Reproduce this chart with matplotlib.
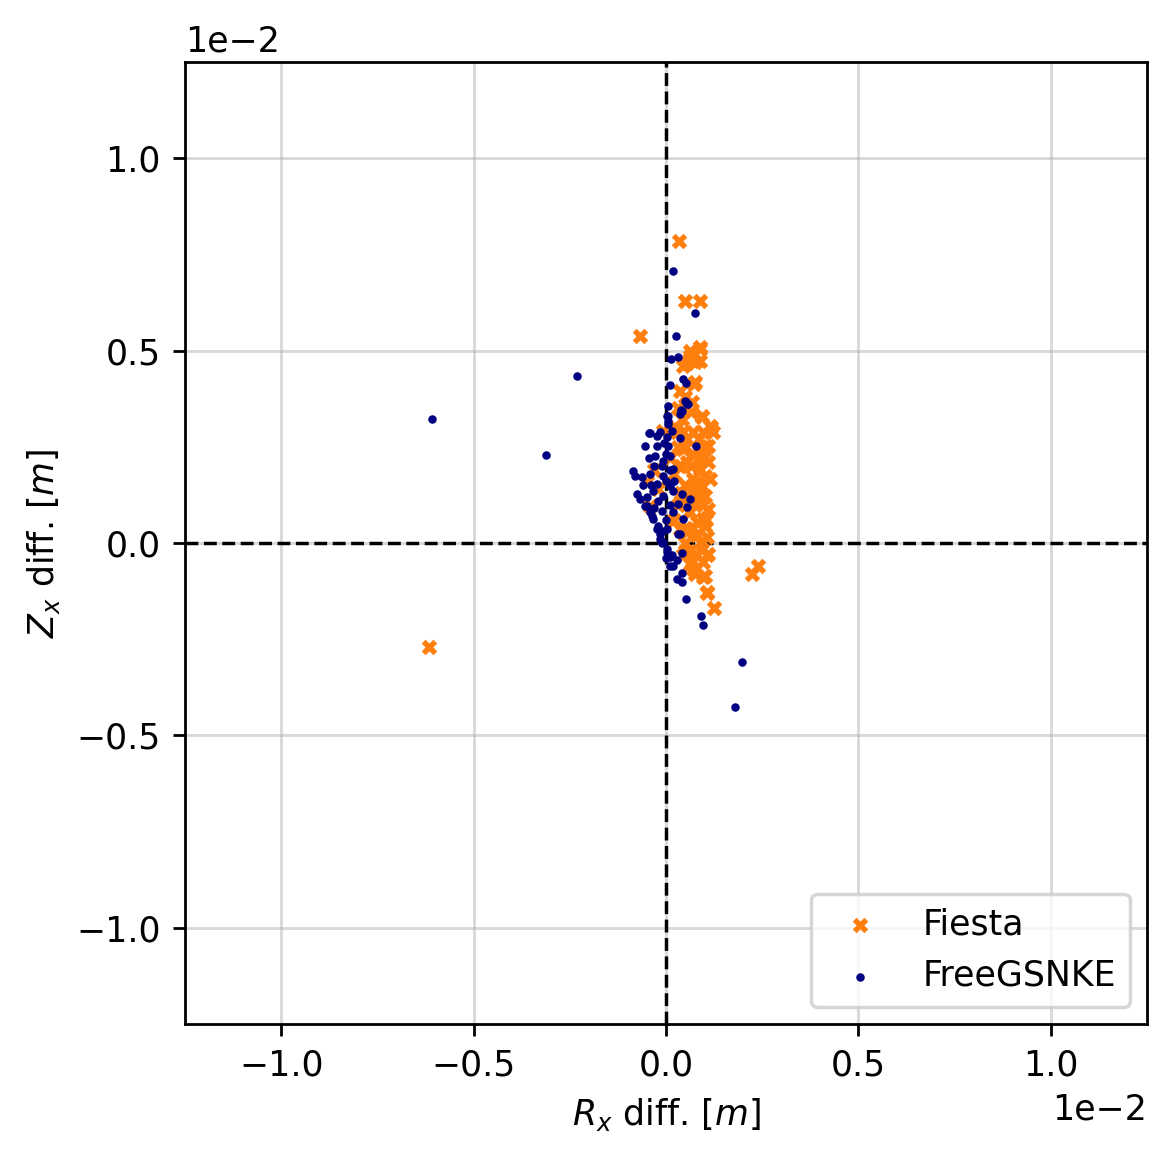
import matplotlib
matplotlib.use("Agg")
import matplotlib.pyplot as plt
import numpy as np

# X-point position differences, in mm (plotted in metres)
fiesta_r = [0.34, 0.49, 0.89, -0.68, -6.15, 2.24, 2.40, 1.25, 1.07, 0.96, 1.07, 1.17, 0.94,
            0.89, 0.89, 0.63, 0.55, 0.73, 1.02, 1.02, 0.96, 0.76, 0.63,
            0.63, 0.89, 0.76, 0.44, 0.76, 0.36, 0.68, 0.94, 1.15, 0.42, 0.44, -0.08, 0.70,
            1.07, 1.09, 1.02, 1.07, 0.94, 0.68, 0.70, 0.55,
            0.96, 1.22, 1.09, 1.09, 1.15, 1.02, 1.09, 1.02, 0.55, 0.81, 0.55, 0.70, 0.81,
            0.63, 0.44, 0.29, -0.49, -0.42, 0.89, 0.94, 0.36,
            0.30, 0.40, 0.50, 0.60, 0.30, 0.20, 0.70, 0.80, 0.50, 0.60, 0.90, 0.40, 0.20,
            0.75, 0.85, 1.00, 1.05, 0.65, 0.50, 0.30, 0.55, 0.10, -0.20, -0.30, 0.95, 0.45, 0.80,
            0.60, 0.75, 0.90, 0.65, 0.85, 0.45, 0.70, 0.95, 0.35, 0.25]
fiesta_z = [7.86, 6.30, 6.30, 5.39, -2.71, -0.81, -0.60, -1.69, -1.30, -0.89, -0.31, 3.02, 3.28,
            5.05, 4.74, 5.00, 4.69, 4.14, 2.53, 1.74, 0.63, -0.81, -0.55,
            4.87, 5.10, 4.71, 4.61, 4.19, 3.96, 3.67, 3.31, 3.05, 3.23, 2.89, 2.92, 2.89,
            0.16, -0.29, -0.86, -1.28, -0.16, -0.47, -0.68, 0.29,
            2.89, 2.89, 2.53, 2.11, 1.67, 1.22, 0.89, 0.44, 0.36, 0.55, 2.11, 1.67, 1.22,
            0.81, 2.45, 2.89, 1.59, 0.96, 1.93, 1.48, 0.36,
            2.50, 2.00, 1.50, 1.20, 1.00, 1.80, 2.30, 0.20, 0.00, -0.20, 0.00, 1.30, 0.60,
            1.00, 2.70, 2.20, 0.60, 3.40, 3.80, 3.50, 2.70, 2.20, 1.40, 1.90, -0.50, -0.30, -0.30,
            0.80, 1.40, 2.40, 2.00, 1.60, 1.10, 0.40, 1.00, 2.00, 3.00]

freegs_r = [-6.07, -2.32, -3.12, 0.18, 0.76, 1.98, 1.80, 0.91, 0.96, 0.52,
            0.26, 0.13, 0.31, 0.10, 0.44, 0.52, 0.05, 0.52, 0.57, 0.39, 0.36,
            0.49, 0.55, 0.05, 0.42, 0.03, 0.05, 0.05, -0.42, -0.16, -0.23, 0.36, 0.03,
            0.42, 0.29, 0.42, 0.29, 0.42, 0.18, 0.10, 0.03, -0.08, -0.16, 0.31,
            -0.44, -0.55, -0.23, 0.05, 0.78, 0.10, -0.08, -0.86, -0.81, -0.63, -0.42, -0.08,
            0.18, -0.23, 0.10, -0.34, -0.76, -0.08, 0.18, 0.42, 0.63, -0.68, 0.31, 0.55,
            -0.55, -0.42, -0.10, 0.18, 0.44, -0.34, -0.21, 0.03, 0.36,
            -0.29, -0.49, -0.36, -0.23, -0.16, 0.03, 0.10,
            -0.10, 0.00, -0.20, 0.10, -0.30, 0.00, -0.10, 0.20, 0.00, -0.40, -0.60, -0.50,
            0.10, -0.10, 0.00, 0.15, -0.05, 0.15, -0.30, -0.45]
freegs_z = [3.23, 4.35, 2.29, 7.06, 5.99, -3.10, -4.27, -1.90, -2.14, -1.46,
            5.39, 4.79, 4.84, 4.11, 4.27, 4.17, 3.57, 3.67, 3.62, 3.46, 3.36,
            3.70, 3.62, 3.31, 3.44, 3.31, 3.18, 3.10, 2.86, 2.89, 2.79, 2.73, 2.76,
            -1.02, -0.94, -0.78, -0.44, -0.26, -0.60, -0.36, -0.16, 0.03, 0.23, 0.23,
            2.86, 2.53, 2.53, 2.53, 2.53, 2.27, 2.14, 1.88, 1.74, 1.72, 1.80, 1.74,
            1.93, 1.54, 1.48, 1.35, 1.28, 1.22, 1.35, 1.28, 1.15, 1.15, 1.02, 0.94,
            0.96, 0.81, 0.83, 0.81, 0.63, 0.63, 0.44, 0.36, 0.23,
            2.27, 0.96, 0.70, 0.36, 0.10, -0.23, -0.60,
            2.00, 1.60, 1.10, 1.00, 0.90, 0.60, 0.30, 1.60, 2.30, 1.50, 1.50, 1.20,
            1.90, 0.00, -0.40, -0.30, 2.60, 2.90, 2.00, 2.20]

fiesta_r = np.array(fiesta_r) * 1e-3
fiesta_z = np.array(fiesta_z) * 1e-3
freegs_r = np.array(freegs_r) * 1e-3
freegs_z = np.array(freegs_z) * 1e-3

fig, ax = plt.subplots(figsize=(1172 / 250, 1159 / 250), dpi=250)
fig.subplots_adjust(left=185 / 1172, right=1147 / 1172, top=1 - 62 / 1159, bottom=1 - 1024 / 1159)

ax.grid(alpha=0.5)
ax.axhline(0, color='k', linestyle='--', linewidth=1, zorder=2)
ax.axvline(0, color='k', linestyle='--', linewidth=1, zorder=2)

ax.scatter(fiesta_r, fiesta_z, marker='X', s=20, linewidths=0, color='tab:orange',
           label='Fiesta', zorder=3)
ax.scatter(freegs_r, freegs_z, marker='o', s=6, linewidths=0, color='navy',
           label='FreeGSNKE', zorder=4)

ax.set_xlim(-0.0125, 0.0125)
ax.set_ylim(-0.0125, 0.0125)
ax.set_xticks([-0.01, -0.005, 0, 0.005, 0.01])
ax.set_yticks([-0.01, -0.005, 0, 0.005, 0.01])
ax.ticklabel_format(style='sci', scilimits=(0, 0))
ax.set_xlabel(r'$R_x$ diff. $[m]$')
ax.set_ylabel(r'$Z_x$ diff. $[m]$')
ax.legend(loc='lower right')

fig.savefig('out.png', dpi=250)
